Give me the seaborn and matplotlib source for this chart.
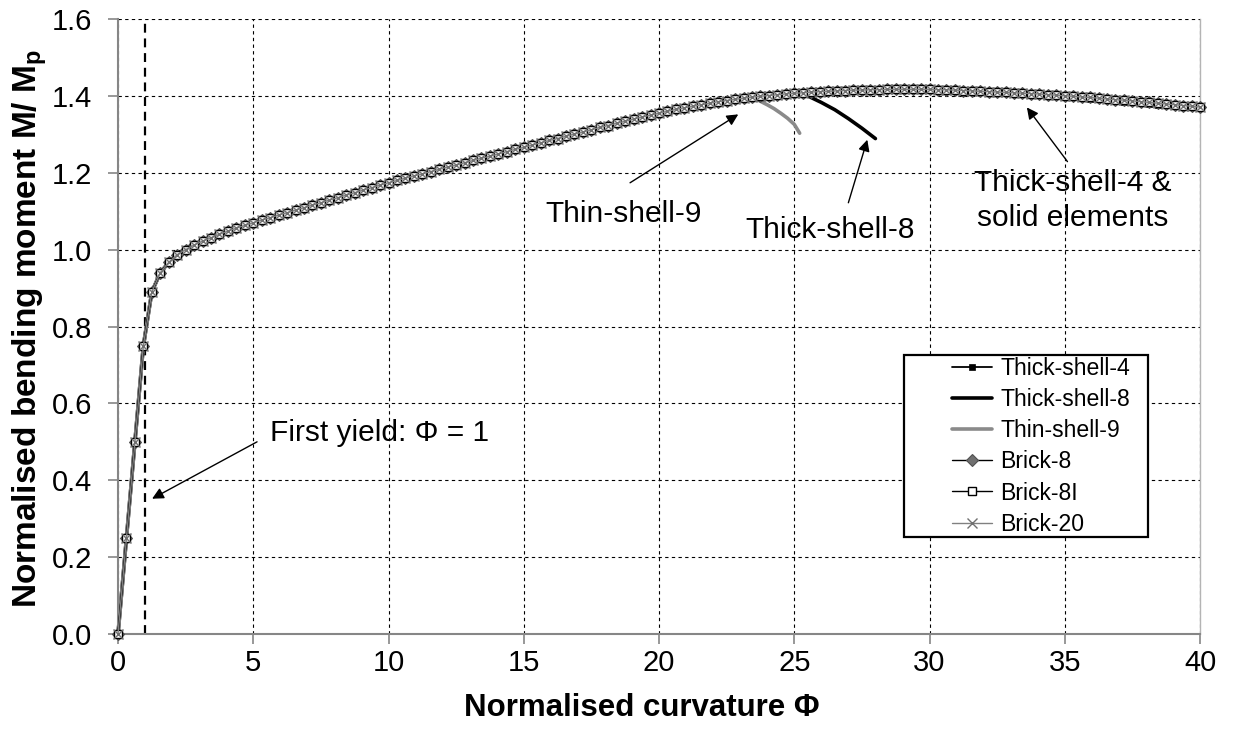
import numpy as np
import matplotlib
matplotlib.use("Agg")
import matplotlib.pyplot as plt
from matplotlib.patches import Rectangle
import seaborn as sns

# Curvature samples (normalised curvature Φ) of the load steps
phi = np.linspace(0.0, 40.0, 129)

# Normalised bending moment M/Mp of the solid-element models (Brick-8, Brick-8I, Brick-20)
m_solid = [
    0.000, 0.250, 0.500, 0.750, 0.890, 0.940, 0.967, 0.987,
    1.000, 1.012, 1.022, 1.031, 1.040, 1.048, 1.056, 1.063,
    1.070, 1.077, 1.083, 1.090, 1.096, 1.103, 1.109, 1.116,
    1.122, 1.129, 1.135, 1.142, 1.148, 1.155, 1.161, 1.168,
    1.174, 1.180, 1.186, 1.192, 1.197, 1.203, 1.209, 1.215,
    1.220, 1.226, 1.232, 1.238, 1.243, 1.249, 1.255, 1.261,
    1.266, 1.272, 1.278, 1.284, 1.289, 1.295, 1.301, 1.306,
    1.312, 1.318, 1.323, 1.329, 1.334, 1.340, 1.345, 1.350,
    1.355, 1.360, 1.365, 1.369, 1.373, 1.377, 1.381, 1.385,
    1.388, 1.391, 1.394, 1.397, 1.399, 1.401, 1.403, 1.405,
    1.407, 1.408, 1.410, 1.411, 1.412, 1.413, 1.414, 1.415,
    1.415, 1.416, 1.416, 1.417, 1.417, 1.417, 1.417, 1.417,
    1.417, 1.416, 1.416, 1.415, 1.414, 1.413, 1.412, 1.411,
    1.410, 1.409, 1.408, 1.407, 1.406, 1.405, 1.403, 1.402,
    1.400, 1.399, 1.397, 1.396, 1.394, 1.392, 1.390, 1.389,
    1.387, 1.385, 1.383, 1.381, 1.379, 1.377, 1.375, 1.373,
    1.371,
]
brick8 = m_solid
brick8i = m_solid
brick20 = m_solid

# Thick-shell-4 follows the solids, a touch lower beyond Φ = 35, and stops near Φ = 38.4
thick4_late = [1.399, 1.397, 1.395, 1.393, 1.391, 1.389,
               1.387, 1.385, 1.383, 1.381, 1.379, 1.377]
thick4 = m_solid[:112] + thick4_late

# Softening branches of the shell models that fail early
phi_thick8_drop = [25.5, 26.0, 26.5, 27.0, 27.5, 28.0]
m_thick8_drop = [1.400, 1.383, 1.364, 1.341, 1.316, 1.289]
phi_thin9_drop = [23.75, 24.0, 24.25, 24.5, 24.75, 25.0, 25.2]
m_thin9_drop = [1.386, 1.377, 1.367, 1.355, 1.342, 1.326, 1.303]

x_thick8 = list(phi[:81]) + phi_thick8_drop
y_thick8 = m_solid[:81] + m_thick8_drop
x_thin9 = list(phi[:76]) + phi_thin9_drop
y_thin9 = m_solid[:76] + m_thin9_drop

x_ticks = [0, 5, 10, 15, 20, 25, 30, 35, 40]
y_ticks = [0.0, 0.2, 0.4, 0.6, 0.8, 1.0, 1.2, 1.4, 1.6]

sns.set_style("ticks")
plt.rcParams["font.family"] = ["Liberation Sans", "DejaVu Sans"]
plt.rcParams["mathtext.fontset"] = "custom"
plt.rcParams["mathtext.rm"] = "Liberation Sans"
plt.rcParams["mathtext.bf"] = "Liberation Sans:bold"
plt.rcParams["text.color"] = "black"
plt.rcParams["axes.labelcolor"] = "black"
plt.rcParams["xtick.labelcolor"] = "black"
plt.rcParams["ytick.labelcolor"] = "black"

GREY = "#808080"
AXIS_GREY = "#868686"

fig = plt.figure(figsize=(12.37, 7.35), dpi=100)
ax = fig.add_axes([0.0954, 0.1374, 0.8747, 0.8367])

common = dict(ax=ax, sort=False, estimator=None, clip_on=False)

sns.lineplot(x=phi[:len(thick4)], y=thick4, color="black", linewidth=1.3,
             marker="s", markersize=4.5, markerfacecolor="black",
             markeredgecolor="black", markeredgewidth=0.5,
             label="Thick-shell-4", zorder=3, **common)
sns.lineplot(x=x_thick8, y=y_thick8, color="black", linewidth=2.6,
             label="Thick-shell-8", zorder=2.5, **common)
sns.lineplot(x=x_thin9, y=y_thin9, color="#8a8a8a", linewidth=2.6,
             label="Thin-shell-9", zorder=2.6, **common)
sns.lineplot(x=phi, y=brick8, color="black", linewidth=1.0,
             marker="D", markersize=5.8, markerfacecolor="#707070",
             markeredgecolor="#505050", markeredgewidth=0.8,
             label="Brick-8", zorder=3.2, **common)
sns.lineplot(x=phi, y=brick8i, color="black", linewidth=1.0,
             marker="s", markersize=6.2, markerfacecolor="white",
             markeredgecolor="black", markeredgewidth=1.0,
             label="Brick-8I", zorder=3.4, **common)
sns.lineplot(x=phi, y=brick20, color=GREY, linewidth=1.0,
             marker="x", markersize=6.6, markerfacecolor=GREY,
             markeredgecolor="#707070", markeredgewidth=1.0,
             label="Brick-20", zorder=3.6, **common)

# First-yield marker
ax.axvline(1.0, color="black", linestyle=(0, (4, 2.6)), linewidth=1.6, zorder=1.5)

ax.set_xlim(0, 40)
ax.set_ylim(0, 1.6)
ax.set_xticks(x_ticks)
ax.set_yticks(y_ticks)
ax.set_xticklabels([str(v) for v in x_ticks])
ax.set_yticklabels([f"{v:.1f}" for v in y_ticks])

ax.grid(True, color="black", linestyle=(0, (3, 3)), linewidth=0.8, zorder=0)
ax.set_axisbelow(True)

for side in ("left", "bottom"):
    ax.spines[side].set_color(AXIS_GREY)
    ax.spines[side].set_linewidth(1.5)
ax.spines["right"].set_visible(True)
ax.spines["right"].set_color("#b4b4b4")
ax.spines["right"].set_linewidth(1.0)
ax.spines["top"].set_visible(False)

ax.tick_params(axis="both", direction="out", length=7.5, width=1.2,
               color=AXIS_GREY, labelsize=21, labelcolor="black")
ax.tick_params(axis="x", pad=3.5)
ax.tick_params(axis="y", pad=11)

ax.set_xlabel("Normalised curvature Φ", fontsize=22.5, fontweight="bold")
ax.xaxis.set_label_coords(0.4843, -0.0965)
ax.set_ylabel(r"Normalised bending moment M/ $\mathbf{M}_\mathbf{p}$",
              fontsize=24, fontweight="bold")
ax.yaxis.label.set_horizontalalignment("left")
ax.yaxis.set_label_coords(-0.0636, 0.043)

arrow = dict(arrowstyle="-|>", color="black", linewidth=1.0,
             mutation_scale=17, shrinkA=0, shrinkB=0)
ann_font = 21.5

ax.annotate("", xy=(1.26, 0.352), xytext=(5.14, 0.50), arrowprops=arrow)
ax.text(5.62, 0.523, "First yield: Φ = 1", fontsize=ann_font, color="black",
        ha="left", va="center")

ax.annotate("", xy=(22.93, 1.352), xytext=(18.93, 1.174), arrowprops=arrow)
ax.text(15.79, 1.093, "Thin-shell-9", fontsize=ann_font, color="black",
        ha="left", va="center")

ax.annotate("", xy=(27.7, 1.286), xytext=(27.0, 1.122), arrowprops=arrow)
ax.text(23.19, 1.052, "Thick-shell-8", fontsize=ann_font, color="black",
        ha="left", va="center")

ax.annotate("", xy=(33.6, 1.370), xytext=(35.1, 1.229), arrowprops=arrow)
ax.text(35.28, 1.128, "Thick-shell-4 &\nsolid elements", fontsize=ann_font,
        color="black", ha="center", va="center", linespacing=1.32)

# Legend box with a wide left margin before the handles
ax.add_patch(Rectangle((0.7264, 0.1577), 0.2255, 0.296, transform=ax.transAxes,
                       facecolor="white", edgecolor="black", linewidth=1.6,
                       zorder=4, clip_on=False))
leg = ax.legend(loc="upper left", bbox_to_anchor=(0.7708, 0.4500),
                borderaxespad=0, fontsize=16.6, frameon=False,
                handlelength=1.74, handletextpad=0.35, labelspacing=0.35,
                borderpad=0)
leg.set_zorder(5)

fig.savefig("out.png", dpi=100)
